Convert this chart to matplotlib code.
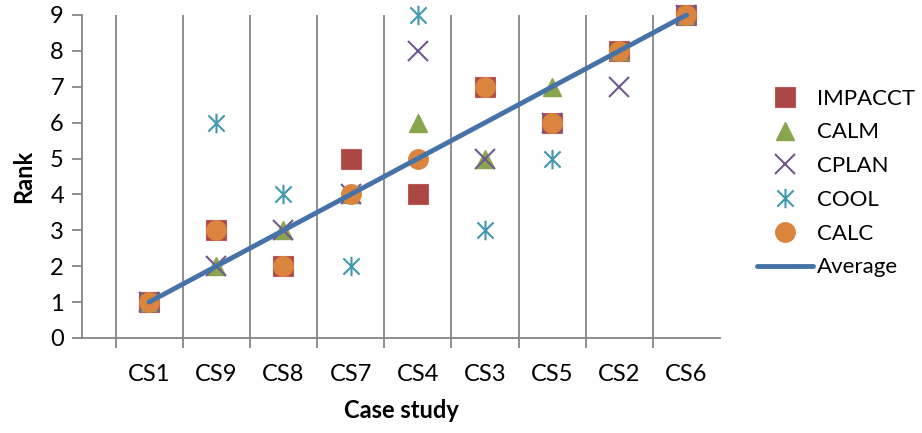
import matplotlib
matplotlib.use("Agg")
from matplotlib import pyplot as plt
from matplotlib.path import Path

plt.rcParams['font.family'] = ['Lato', 'DejaVu Sans']

cases = ["CS1", "CS9", "CS8", "CS7", "CS4", "CS3", "CS5", "CS2", "CS6"]
impacct = [1, 3, 2, 5, 4, 7, 6, 8, 9]
calm = [1, 2, 3, 4, 6, 5, 7, 8, 9]
cplan = [1, 2, 3, 4, 8, 5, 6, 7, 9]
cool = [1, 6, 4, 2, 9, 3, 5, 8, 9]
calc = [1, 3, 2, 4, 5, 7, 6, 8, 9]
average = [1, 2, 3, 4, 5, 6, 7, 8, 9]

xpos = list(range(1, len(cases) + 1))

# excel style star: an x with a vertical bar
star = Path([(-1, -1), (1, 1), (-1, 1), (1, -1), (0, -1.2), (0, 1.2)],
            [Path.MOVETO, Path.LINETO, Path.MOVETO, Path.LINETO, Path.MOVETO, Path.LINETO])

fig = plt.figure(figsize=(9.22, 4.33), dpi=100)
ax = fig.add_axes([0.0889, 0.2194, 0.6921, 0.746])

grey = '#868686'
fs = 17
ax.plot(xpos, impacct, 's', color='#AA4643', ms=14, mec='#B85C59', mew=0.8, label='IMPACCT', clip_on=False)
ax.plot(xpos, calm, '^', color='#89A54E', ms=13, mec='#89A54E', label='CALM', clip_on=False)
ax.plot(xpos, cplan, 'x', color='#71588F', ms=14, mew=1.5, label='CPLAN', clip_on=False)
ax.plot(xpos, cool, linestyle='none', marker=star, color='#4198AF', ms=14, mew=1.5, label='COOL', clip_on=False)
ax.plot(xpos, calc, 'o', color='#DB843D', ms=14, mec='#DB843D', label='CALC', clip_on=False)
ax.plot(xpos, average, '-', color='#4572A7', lw=3.5, solid_capstyle='round', label='Average', clip_on=False)

ax.set_xlim(0, 9.5)
ax.set_ylim(0, 9)
ax.set_xticks(xpos)
ax.set_xticklabels(cases, fontsize=fs)
ax.set_xticks([x - 0.5 for x in xpos], minor=True)
ax.tick_params(axis='x', which='major', length=0, pad=19)
ax.tick_params(axis='x', which='minor', length=7, width=1.3, color=grey)
ax.set_yticks(range(0, 10))
ax.tick_params(axis='y', labelsize=fs, length=7, width=1.3, color=grey, pad=6)
ax.grid(axis='x', which='minor', color=grey, lw=1.3)
ax.set_axisbelow(True)

for s in ['top', 'right']:
    ax.spines[s].set_visible(False)
for s in ['left', 'bottom']:
    ax.spines[s].set_color(grey)
    ax.spines[s].set_linewidth(1.3)

ax.set_xlabel('Case study', fontsize=fs, fontweight='bold', labelpad=10)
ax.set_ylabel('Rank', fontsize=fs, fontweight='bold', labelpad=11)

ax.legend(loc='center left', bbox_to_anchor=(1.0, 0.48), frameon=False, fontsize=16,
          handlelength=2.5, handletextpad=0.2, labelspacing=0.62, borderaxespad=1.27)

fig.savefig('out.png', dpi=100)
